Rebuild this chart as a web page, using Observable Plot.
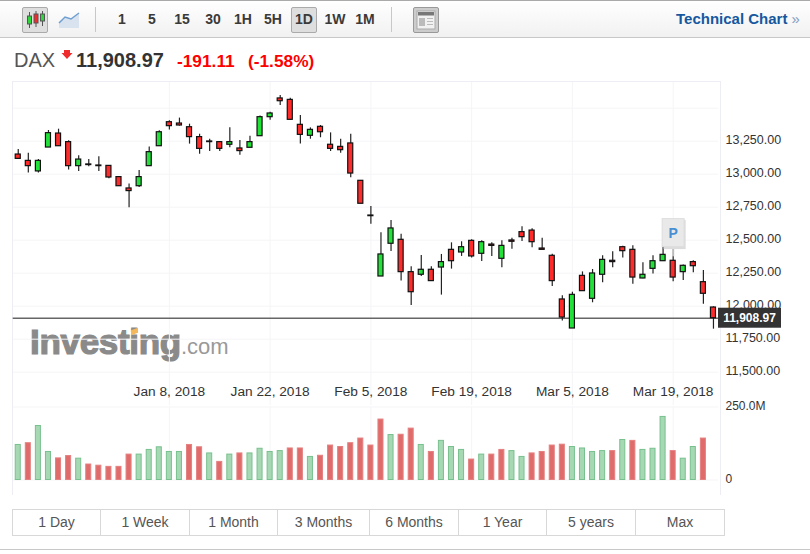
<!DOCTYPE html>
<html>
<head>
<meta charset="utf-8">
<script src="https://cdn.jsdelivr.net/npm/d3@7"></script>
<script src="https://cdn.jsdelivr.net/npm/@observablehq/plot@0.6"></script>
<style>
  html, body { margin: 0; padding: 0; background: #fff; }
  body { width: 810px; height: 554px; overflow: hidden; position: relative; font-family: "Liberation Sans", Arial, sans-serif; }
  .abs { position: absolute; }
  #toolbar { left: 0; top: 0; width: 810px; background: linear-gradient(#fff, #f1f1f1); border-top: 1px solid #aaa; border-bottom: 1px solid #c8c8c8; box-sizing: border-box; height: 38px; }
  .tf { position: absolute; top: 10px; transform: translateX(-50%); font-size: 14px; font-weight: bold; color: #3a3a3a; line-height: 17px; }
  .btn { position: absolute; top: 6px; width: 24px; height: 24px; background: #dedede; border: 1px solid #aaa; border-radius: 2px; }
  .sep { position: absolute; top: 6px; width: 1px; height: 25px; background: #c8c8c8; }
  #panel { left: 12px; top: 81px; width: 707px; height: 413px; border: 1px solid #eceef4; border-bottom: none; box-sizing: content-box; }
  #range { left: 12px; top: 509px; height: 26px; }
  .cell { position: absolute; top: 0; border: 1px solid #d8d8d8; box-sizing: border-box; height: 27px; text-align: center; font-size: 14px; line-height: 25px; color: #555; background: #fff; }
  #price, #volume { left: 0; }
  #logo { left: 30px; top: 321px; white-space: nowrap; color: #8a8a8a; line-height: 42px; }
  #logo b { font-size: 35px; letter-spacing: -0.3px; -webkit-text-stroke: 1.2px #8a8a8a; }
  #logo span { font-size: 22px; color: #999; }
  #flame { left: 131px; top: 329px; width: 7px; height: 5px; background: #f5b75c; transform: skewY(-20deg); }
</style>
</head>
<body>
<div id="toolbar" class="abs">
  <div class="btn" style="left:22px">
    <svg width="24" height="24">
      <path d="M6.5 4V20M13 3V19M19.5 3V18" stroke="#555"/>
      <rect x="4.5" y="8" width="4" height="8" fill="#2fd53a" stroke="#555"/>
      <rect x="11" y="6" width="4" height="9" fill="#f02b2b" stroke="#555"/>
      <rect x="17.5" y="6" width="4" height="7" fill="#2fd53a" stroke="#555"/>
    </svg>
  </div>
  <svg style="position:absolute;left:58px;top:10px" width="22" height="18">
    <path d="M1 12 L7 6 L13 8 L21 2 V17 H1Z" fill="#d8e3ef"/>
    <path d="M1 12 L7 6 L13 8 L21 2" fill="none" stroke="#6f9fd0" stroke-width="1.5"/>
  </svg>
  <div class="sep" style="left:95px"></div>
  <div class="tf" style="left:122px">1</div>
  <div class="tf" style="left:152px">5</div>
  <div class="tf" style="left:182px">15</div>
  <div class="tf" style="left:213px">30</div>
  <div class="tf" style="left:243px">1H</div>
  <div class="tf" style="left:273px">5H</div>
  <div class="btn" style="left:291px"></div>
  <div class="tf" style="left:304px">1D</div>
  <div class="tf" style="left:335px">1W</div>
  <div class="tf" style="left:365px">1M</div>
  <div class="sep" style="left:391px"></div>
  <div class="btn" style="left:413px;background:#ccc;border-color:#999">
    <svg width="24" height="24">
      <rect x="3" y="3" width="18" height="18" fill="#f1f1f1" stroke="#aaa"/>
      <rect x="4" y="4" width="16" height="3.5" fill="#777"/>
      <rect x="5" y="10" width="6" height="8" fill="#bbb"/>
      <path d="M13 10.5H19M13 13.5H19M13 16.5H19" stroke="#bbb"/>
    </svg>
  </div>
  <div class="abs" style="left:676px;top:9px;font-size:15px;font-weight:bold;color:#1558a0;line-height:17px;white-space:nowrap">Technical Chart <span style="color:#7d9fc5;font-weight:normal">»</span></div>
</div>

<div class="abs" style="left:14px;top:49px;font-size:20px;color:#555;line-height:23px">DAX</div>
<svg class="abs" style="left:61px;top:49px" width="12" height="11"><path d="M3 1H9V4H11.5L6 10L0.5 4H3Z" fill="#ef2b2b"/></svg>
<div class="abs" style="left:76px;top:49px;font-size:20px;font-weight:bold;color:#333;line-height:23px">11,908.97</div>
<div class="abs" style="left:177px;top:51px;font-size:17.3px;font-weight:bold;color:#f00;line-height:20px">-191.11</div>
<div class="abs" style="left:248px;top:51px;font-size:17.3px;font-weight:bold;color:#f00;line-height:20px">(-1.58%)</div>

<div id="panel" class="abs"></div>
<div id="logo" class="abs"><b>Investing</b><span>.com</span></div>
<div id="flame" class="abs"></div>
<div id="price" class="abs" style="top:82px"></div>
<div id="volume" class="abs" style="top:400px"></div>

<div id="range" class="abs"></div>
<div class="abs" style="left:0;top:549px;width:810px;height:1px;background:#c8c8c8"></div>

<script>
// one entry per trading day, Dec 18 2017 - Mar 23 2018
const opens = [13149,13101,13021,13202,13308,13243,13061,13074,13066,13063,
  12978,12892,12909,13061,13212,13394,13384,13356,13281,13248,
  13243,13223,13195,13200,13288,13432,13574,13563,13374,13291,
  13359,13223,13207,13233,12950,12687,12225,12473,12503,12258,
  12238,12276,12293,12427,12407,12495,12397,12467,12359,12498,
  12561,12573,12437,12382,12051,11831,12230,12056,12238,12344,
  12447,12427,12210,12283,12341,12344,12258,12334,12182,11990];
const closes = [13116,13061,13101,13311,13212,13061,13111,13069,13061,12975,
  12909,12872,12978,13167,13318,13364,13369,13281,13192,13243,
  13192,13243,13175,13243,13432,13460,13553,13412,13298,13336,
  13318,13192,13182,13005,12776,12682,12392,12589,12258,12106,
  12276,12190,12334,12341,12447,12377,12485,12457,12457,12488,
  12523,12485,12427,12190,11914,12086,12114,12248,12351,12334,
  12417,12217,12238,12341,12389,12217,12306,12303,12094,11908.97];
const highs = [13187,13159,13111,13331,13341,13253,13139,13111,13132,13066,
  12980,12925,13028,13207,13329,13404,13425,13379,13303,13265,
  13248,13351,13255,13288,13440,13470,13596,13576,13445,13351,
  13369,13313,13265,13303,12950,12755,12556,12649,12546,12298,
  12384,12298,12392,12480,12488,12503,12495,12480,12495,12515,
  12601,12586,12515,12394,12079,12106,12260,12278,12382,12412,
  12455,12457,12329,12382,12460,12374,12313,12344,12270,11995];
const lows = [13116,13010,13010,13202,13212,13031,13021,13056,13021,12965,
  12909,12745,12899,13061,13212,13334,13364,13228,13152,13172,
  13172,13200,13144,13200,13288,13409,13520,13409,13228,13265,
  13276,13172,13159,12973,12776,12621,12225,12414,12190,12005,
  12225,12190,12084,12281,12377,12366,12339,12377,12291,12432,
  12490,12442,12427,12149,11887,11831,12114,12026,12177,12291,
  12366,12167,12207,12243,12339,12185,12195,12253,12015,11826];
// millions of shares; the last day has no bar yet
const volumes = [120,126,185,96,74,82,73,53,49,45,
  45,87,87,103,112,96,96,120,112,91,
  62,87,91,91,107,96,99,108,108,79,
  83,118,113,126,142,118,207,154,155,176,
  120,96,134,113,103,70,87,87,103,99,
  79,91,96,118,121,113,108,96,99,99,
  137,134,103,107,216,99,73,113,142];
const volumeUp = [1,0,1,1,0,0,1,0,0,0,
  0,0,1,1,1,1,1,0,0,1,
  0,1,0,1,1,1,1,0,0,1,
  0,0,0,0,0,0,0,1,0,0,
  1,0,1,1,1,0,1,0,0,1,
  1,0,0,0,0,1,1,1,1,0,
  1,0,1,1,1,0,1,1,0];
const dateTickDays = [15,25,35,45,55,65];
const dateTickLabels = ["Jan 8, 2018","Jan 22, 2018","Feb 5, 2018","Feb 19, 2018","Mar 5, 2018","Mar 19, 2018"];
const priceGrid = [13500,13250,13000,12750,12500,12250,12000,11750,11500];
const priceTicks = [13250,13000,12750,12500,12250,12000,11750,11500];
const volumeTicks = [0,250];
const rangeLabels = ["1 Day","1 Week","1 Month","3 Months","6 Months","1 Year","5 years","Max"];
const rangeEdges = [12,100,189,277,369,458,546,635,724];

const lastPrice = 11908.97;
const pinDay = 65;
const pinBottom = 12444;

const gridColor = "#f5f5f8";
const font = {fontFamily: "'Liberation Sans', Arial, sans-serif", background: "transparent", overflow: "visible"};
const days = d3.range(closes.length);
const candles = days.map(i => ({i, open: opens[i], close: closes[i], high: highs[i], low: lows[i]}));
const xScale = {type: "band", domain: days, paddingInner: 0.5, paddingOuter: 0.25, round: false, axis: null};
const margins = {marginLeft: 12.7, marginRight: 92, marginTop: 0, width: 810};

const price = Plot.plot({
  ...margins,
  height: 323,
  marginBottom: 0,
  style: font,
  x: xScale,
  y: {domain: [11247.7, 13694.7]},
  marks: [
    Plot.gridX(dateTickDays, {stroke: gridColor, strokeOpacity: 1}),
    Plot.gridY(priceGrid, {stroke: gridColor, strokeOpacity: 1}),
    Plot.axisX(dateTickDays, {
      anchor: "bottom", label: null, tickSize: 0, tickPadding: -19, fontSize: 13.7, color: "#333",
      tickFormat: d => dateTickLabels[dateTickDays.indexOf(d)]
    }),
    Plot.axisY(priceTicks, {
      anchor: "right", label: null, tickSize: 0, tickPadding: 7, dy: -1.5, fontSize: 12.5, color: "#333",
      tickFormat: d3.format(",.2f")
    }),
    Plot.ruleY([lastPrice], {stroke: "#666", strokeWidth: 1.5}),
    Plot.ruleX([pinDay], {y1: pinBottom, y2: highs[pinDay], stroke: "#bbb", strokeWidth: 2}),
    Plot.ruleX(candles, {x: "i", y1: "low", y2: "high", stroke: "#222", strokeWidth: 1.2}),
    Plot.barY(candles, {
      x: "i", y1: "open", y2: "close", stroke: "#111", strokeWidth: 1.2,
      fill: d => d.close > d.open ? "#22e23a" : "#ff2b2b"
    })
  ]
});
document.getElementById("price").append(price);

// price tag and the "P" pin sit outside what the marks above can draw
const yPrice = price.scale("y");
const xDay = price.scale("x");
const svg = d3.select(price);
const tagY = yPrice.apply(lastPrice);
svg.append("rect").attr("x", 718).attr("y", tagY - 10).attr("width", 63).attr("height", 20).attr("fill", "#333");
svg.append("text").attr("x", 749.5).attr("y", tagY + 4.5).attr("text-anchor", "middle")
  .attr("fill", "#fff").attr("font-size", 12).attr("font-weight", "bold").text("11,908.97");
const pinX = xDay.apply(pinDay) + xDay.bandwidth / 2;
const pinY = yPrice.apply(pinBottom);
svg.append("rect").attr("x", pinX - 9).attr("y", pinY - 27).attr("width", 22).attr("height", 29).attr("fill", "#dcdcdc");
svg.append("rect").attr("x", pinX - 10.5).attr("y", pinY - 28.5).attr("width", 22).attr("height", 28).attr("fill", "#e9e9e9").attr("stroke", "#ddd");
svg.append("text").attr("x", pinX + 0.5).attr("y", pinY - 9).attr("text-anchor", "middle")
  .attr("fill", "#4a8fd3").attr("font-size", 14).attr("font-weight", "bold").text("P");

const volume = Plot.plot({
  ...margins,
  height: 95,
  marginTop: 6.5,
  marginBottom: 15.5,
  style: font,
  x: xScale,
  y: {domain: [0, 250]},
  marks: [
    Plot.gridX(dateTickDays, {stroke: gridColor, strokeOpacity: 1, y1: 0, y2: 250}),
    Plot.gridY(volumeTicks, {stroke: gridColor, strokeOpacity: 1}),
    Plot.axisY(volumeTicks, {
      anchor: "right", label: null, tickSize: 0, tickPadding: 7, dy: -1, fontSize: 12, color: "#333",
      tickFormat: d => d ? d + ".0M" : "0"
    }),
    Plot.barY(volumes, {
      x: (d, i) => i, y: d => d,
      fill: (d, i) => volumeUp[i] ? "#a6d8b3" : "#e06b6b",
      stroke: (d, i) => volumeUp[i] ? "#78c08e" : "#e58080"
    })
  ]
});
document.getElementById("volume").append(volume);

const range = document.getElementById("range");
rangeLabels.forEach((label, i) => {
  const cell = document.createElement("div");
  cell.className = "cell";
  cell.style.left = (rangeEdges[i] - 12) + "px";
  cell.style.width = (rangeEdges[i + 1] - rangeEdges[i] + 1) + "px";
  cell.textContent = label;
  range.append(cell);
});
</script>
</body>
</html>
